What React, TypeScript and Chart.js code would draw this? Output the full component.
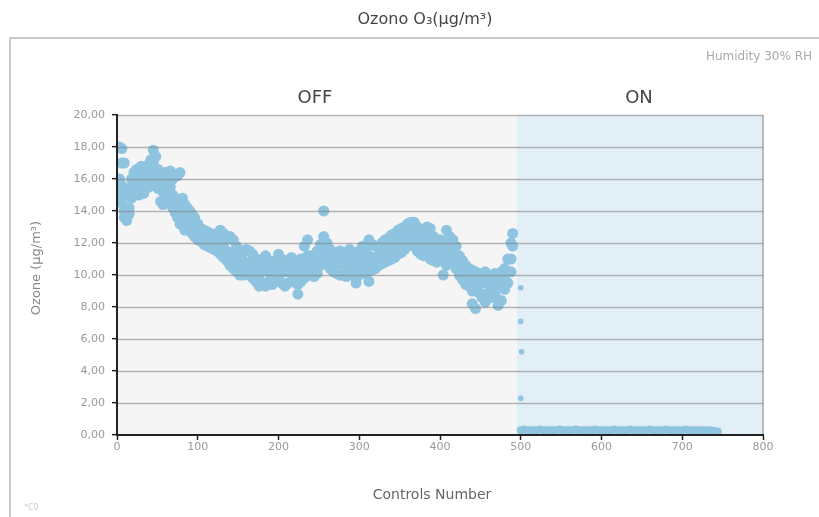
import React, { useEffect, useRef } from "react";
import { Chart, registerables } from "chart.js";

Chart.register(...registerables);

// OFF phase: column x positions (controls number) and ozone readings read at each column
const offX = [
  0, 3, 6, 9, 12, 15, 18, 21, 24, 27, 30, 33, 36, 39, 42, 45, 48, 51, 54, 57, 60, 63, 66, 69, 72, 75, 78, 81, 84, 87,
  90, 93, 96, 100, 104, 108, 112, 116, 120, 124, 128, 132, 136, 140, 144, 148, 152, 156, 160, 164, 168, 172, 176,
  180, 184, 188, 192, 196, 200, 204, 208, 212, 216, 220, 224, 228, 232, 236, 240, 244, 248, 252, 256, 260, 264, 268,
  272, 276, 280, 284, 288, 292, 296, 300, 304, 308, 312, 316, 320, 324, 328, 332, 336, 340, 344, 348, 352, 356, 360,
  364, 368, 372, 376, 380, 384, 388, 392, 396, 400, 404, 408, 412, 416, 420, 424, 428, 432, 436, 440, 444, 448, 452,
  456, 460, 464, 468, 472, 476, 480, 484, 488, 490,
];
const offVals: number[][] = [
  [15.2, 14.6, 15.8], [18.0, 15.4, 14.8, 16.0], [17.9, 17.0, 15.6, 14.5], [17.0, 15.2, 14.0, 13.6], [15.4, 14.2, 13.4],
  [15.0, 14.2, 13.8], [16.0, 15.3, 14.8], [16.4, 15.7, 15.0], [16.6, 15.9, 15.2], [16.5, 15.6, 15.0],
  [16.8, 16.0, 15.2], [16.3, 15.8, 15.1], [16.6, 16.0, 15.4], [16.9, 16.2, 15.5], [17.2, 16.4, 15.8],
  [17.8, 17.0, 16.2, 15.6], [17.4, 16.6, 15.9], [16.6, 16.0, 15.4], [16.2, 15.4, 14.6], [16.0, 15.2, 14.4],
  [16.4, 15.3, 14.5], [16.3, 15.6, 14.8], [16.5, 15.5, 14.6], [16.0, 15.0, 14.2], [16.2, 14.8, 13.9],
  [16.2, 14.6, 13.6], [16.4, 14.6, 13.6, 13.2], [14.8, 14.0, 13.1], [14.4, 13.6, 12.8], [14.2, 13.5, 12.9],
  [14.0, 13.4, 12.8], [13.8, 13.2, 12.6], [13.6, 13.0, 12.4], [13.2, 12.7, 12.2], [12.9, 12.5, 12.1],
  [12.8, 12.3, 11.9], [12.7, 12.3, 11.8], [12.6, 12.2, 11.7], [12.5, 12.1, 11.6], [12.6, 12.0, 11.5],
  [12.8, 12.2, 11.3], [12.6, 11.8, 11.1], [12.3, 11.5, 10.9], [12.4, 11.4, 10.6], [12.2, 11.2, 10.4],
  [11.8, 11.0, 10.2], [11.4, 10.7, 10.0], [11.4, 10.6, 10.0], [11.6, 10.8, 10.1], [11.5, 10.7, 10.0],
  [11.3, 10.5, 9.8], [11.0, 10.3, 9.6], [10.8, 10.0, 9.3], [11.0, 10.3, 9.5], [11.2, 10.4, 9.3],
  [10.9, 10.2, 9.6], [10.8, 10.1, 9.4], [10.9, 10.3, 9.6], [11.3, 10.5, 9.8], [11.0, 10.4, 9.5],
  [10.8, 10.2, 9.3], [10.9, 10.2, 9.5], [11.1, 10.4, 9.6], [10.9, 10.3, 9.7], [10.8, 10.2, 9.4, 8.8],
  [11.0, 10.3, 9.6], [11.8, 11.0, 10.4, 9.8], [12.2, 11.2, 10.5], [11.2, 10.6, 10.0], [11.0, 10.4, 9.9],
  [11.5, 10.8, 10.1], [11.9, 11.2, 10.6], [14.0, 12.4, 11.6, 10.9], [12.0, 11.4, 10.8], [11.6, 11.0, 10.4],
  [11.4, 10.8, 10.2], [11.2, 10.6, 10.1], [11.5, 10.8, 10.0], [11.4, 10.7, 10.0], [11.2, 10.5, 9.9],
  [11.6, 10.8, 10.1], [11.4, 10.6, 10.0], [11.1, 10.4, 9.5], [11.5, 10.7, 10.0], [11.8, 11.0, 10.2],
  [11.6, 10.8, 10.1], [12.2, 11.2, 10.4, 9.6], [11.9, 11.0, 10.3], [11.8, 11.1, 10.4], [11.8, 11.2, 10.6],
  [12.0, 11.3, 10.7], [12.2, 11.5, 10.8], [12.3, 11.6, 10.9], [12.5, 11.8, 11.0], [12.6, 11.9, 11.1],
  [12.8, 12.0, 11.3], [12.9, 12.2, 11.4], [13.0, 12.3, 11.6], [13.2, 12.5, 11.8], [13.3, 12.6, 11.9],
  [13.3, 12.5, 11.8], [13.0, 12.2, 11.5], [12.8, 12.0, 11.3], [12.5, 11.9, 11.2], [13.0, 12.2, 11.4],
  [12.9, 12.0, 11.0], [12.4, 11.7, 10.9], [12.1, 11.4, 10.8], [12.2, 11.6, 11.0], [12.0, 11.3, 10.0],
  [12.8, 12.2, 11.4, 10.6], [12.4, 11.7, 10.9], [12.2, 11.4, 10.7], [11.8, 11.1, 10.4], [11.2, 10.6, 10.0],
  [10.9, 10.3, 9.7], [10.6, 10.0, 9.4], [10.4, 9.8, 9.3], [10.3, 9.7, 9.0, 8.2], [10.2, 9.6, 9.1, 7.9],
  [10.0, 9.5, 8.9], [10.1, 9.5, 8.6], [10.2, 9.6, 8.8, 8.3], [10.0, 9.4, 8.7], [9.9, 9.3, 8.6],
  [10.1, 9.5, 8.8], [10.0, 9.3, 8.1], [10.2, 9.6, 8.4], [10.4, 9.8, 9.1], [11.0, 10.2, 9.5],
  [12.0, 11.0, 10.2], [12.6, 11.8],
];

// Transition readings right after switching ON
const spikeX = [500, 500, 501, 500];
const spikeY = [9.2, 7.1, 5.2, 2.3];

// ON phase readings
const onX = [
  500, 504, 508, 512, 516, 520, 524, 528, 532, 536, 540, 544, 548, 552, 556, 560, 564, 568, 572, 576, 580, 584, 588,
  592, 596, 600, 604, 608, 612, 616, 620, 624, 628, 632, 636, 640, 644, 648, 652, 656, 660, 664, 668, 672, 676, 680,
  684, 688, 692, 696, 700, 704, 708, 712, 716, 720, 724, 728, 732, 736, 740, 744,
];
const onY = [
  0.3, 0.35, 0.3, 0.3, 0.3, 0.3, 0.35, 0.3, 0.3, 0.3, 0.3, 0.3, 0.35, 0.3, 0.3, 0.3, 0.3, 0.35, 0.3, 0.3, 0.3,
  0.3, 0.3, 0.35, 0.3, 0.3, 0.3, 0.3, 0.3, 0.35, 0.3, 0.3, 0.3, 0.3, 0.35, 0.3, 0.3, 0.3, 0.3, 0.3, 0.35, 0.3,
  0.3, 0.3, 0.3, 0.35, 0.3, 0.3, 0.3, 0.3, 0.3, 0.35, 0.3, 0.3, 0.3, 0.3, 0.3, 0.3, 0.3, 0.28, 0.25, 0.22,
];

const yTicks = [0, 2, 4, 6, 8, 10, 12, 14, 16, 18, 20];
const xTicks = [0, 100, 200, 300, 400, 500, 600, 700, 800];
const switchAt = 495;

const POINT = "#8fc4e0";
const GRID = "rgba(125,125,125,0.55)";
const FONT = "'DejaVu Sans', sans-serif";

export default function App() {
  const ref = useRef<HTMLCanvasElement>(null);
  useEffect(() => {
    const offPts: { x: number; y: number }[] = [];
    offX.forEach((x, i) => offVals[i].forEach((v) => offPts.push({ x, y: v })));
    const spikePts = spikeX.map((x, i) => ({ x, y: spikeY[i] }));
    const onPts = onX.map((x, i) => ({ x, y: onY[i] }));

    const deco = {
      id: "deco",
      beforeDraw(chart: any) {
        const { ctx, chartArea: a, scales } = chart;
        const sx = scales.x;
        ctx.save();
        ctx.fillStyle = "#fff";
        ctx.fillRect(0, 0, chart.width, chart.height);
        ctx.strokeStyle = "#c9c9c9";
        ctx.lineWidth = 2;
        ctx.beginPath();
        ctx.moveTo(10, 517);
        ctx.lineTo(10, 38);
        ctx.lineTo(819, 38);
        ctx.stroke();
        const xs = sx.getPixelForValue(switchAt);
        ctx.fillStyle = "#f5f5f5";
        ctx.fillRect(a.left, a.top, xs - a.left, a.bottom - a.top);
        ctx.fillStyle = "#e3eff7";
        ctx.fillRect(xs, a.top, a.right - xs, a.bottom - a.top);
        ctx.strokeStyle = "#a8a8a8";
        ctx.lineWidth = 1.5;
        ctx.beginPath();
        ctx.moveTo(a.right, a.top);
        ctx.lineTo(a.right, a.bottom);
        ctx.stroke();
        ctx.restore();
      },
      afterDatasetsDraw(chart: any) {
        // gridlines sit on top of the markers in the original
        const { ctx, chartArea: a, scales } = chart;
        const sy = scales.y;
        ctx.save();
        ctx.strokeStyle = GRID;
        ctx.lineWidth = 1.3;
        yTicks.forEach((v) => {
          if (v === 0) return;
          const py = Math.round(sy.getPixelForValue(v)) + 0.5;
          ctx.beginPath();
          ctx.moveTo(a.left, py);
          ctx.lineTo(a.right, py);
          ctx.stroke();
        });
        ctx.restore();
      },
      afterDraw(chart: any) {
        const { ctx } = chart;
        ctx.save();
        ctx.textBaseline = "middle";
        ctx.textAlign = "center";
        ctx.fillStyle = "#444";
        ctx.font = `16px ${FONT}`;
        ctx.fillText("Ozono O₃(µg/m³)", 425, 20);
        ctx.textAlign = "right";
        ctx.fillStyle = "#aaa";
        ctx.font = `12px ${FONT}`;
        ctx.fillText("Humidity 30% RH", 812, 57);
        ctx.textAlign = "center";
        ctx.fillStyle = "#444";
        ctx.font = `18px ${FONT}`;
        ctx.fillText("OFF", 315, 98);
        ctx.fillText("ON", 639, 98);
        ctx.fillStyle = "#666";
        ctx.font = `14px ${FONT}`;
        ctx.fillText("Controls Number", 432, 495);
        ctx.fillStyle = "#ccc";
        ctx.font = `8px ${FONT}`;
        ctx.textAlign = "left";
        ctx.fillText("*C0", 24, 508);
        ctx.translate(37, 268);
        ctx.rotate(-Math.PI / 2);
        ctx.textAlign = "center";
        ctx.fillStyle = "#888";
        ctx.font = `13px ${FONT}`;
        ctx.fillText("Ozone (µg/m³)", 0, 0);
        ctx.restore();
      },
    };

    const chart = new Chart(ref.current!, {
      type: "scatter",
      data: {
        datasets: [
          { data: offPts, backgroundColor: POINT, borderWidth: 0, pointRadius: 5.5 },
          { data: spikePts, backgroundColor: POINT, borderWidth: 0, pointRadius: 2.8 },
          { data: onPts, backgroundColor: POINT, borderWidth: 0, pointRadius: 4 },
        ],
      },
      options: {
        responsive: false,
        animation: false,
        events: [],
        layout: { padding: { left: 0, top: 115, right: 56, bottom: 0 } },
        plugins: { legend: { display: false }, tooltip: { enabled: false }, title: { display: false } },
        scales: {
          x: {
            type: "linear",
            min: 0,
            max: 800,
            afterFit: (s: any) => {
              s.height = 82;
            },
            afterBuildTicks: (s: any) => {
              s.ticks = xTicks.map((v) => ({ value: v }));
            },
            border: { color: "#222", width: 2, z: 1 },
            grid: { drawOnChartArea: false, tickColor: "#222", tickLength: 5, tickWidth: 1.5 },
            ticks: { color: "#999", font: { family: FONT, size: 11 }, padding: 1 },
          },
          y: {
            type: "linear",
            min: 0,
            max: 20,
            afterFit: (s: any) => {
              s.width = 117;
            },
            afterBuildTicks: (s: any) => {
              s.ticks = yTicks.map((v) => ({ value: v }));
            },
            border: { color: "#222", width: 2, z: 1 },
            grid: { color: "rgba(0,0,0,0)", lineWidth: 1.3, tickColor: "#222", tickLength: 5, tickWidth: 1.5 },
            ticks: {
              color: "#999",
              font: { family: FONT, size: 11 },
              padding: 7,
              callback: (v: any) => Number(v).toFixed(2).replace(".", ","),
            },
          },
        },
      },
      plugins: [deco],
    });
    return () => chart.destroy();
  }, []);
  return (
    <div style={{ position: "absolute", left: 0, top: 0, width: 819, height: 517 }}>
      <canvas ref={ref} width={819} height={517} />
    </div>
  );
}
